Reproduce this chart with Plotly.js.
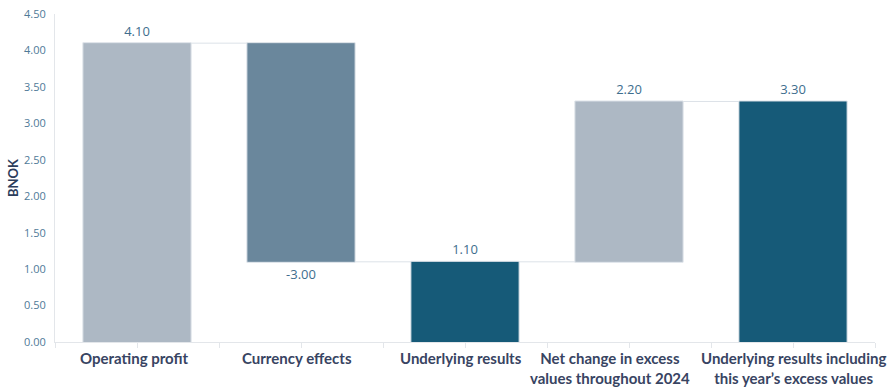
<!DOCTYPE html>
<html>
<head>
<meta charset="utf-8">
<script src="https://cdn.plot.ly/plotly-3.0.1.min.js"></script>
<style>html,body{margin:0;padding:0;background:#fff;}#chart{width:895px;height:388px;}</style>
</head>
<body>
<div id="chart"></div>
<script>
const categories = ["Operating profit", "Currency effects", "Underlying results", "Net change in excess<br>values throughout 2024", "Underlying results including<br>this year\u2019s excess values"];
const measures = ["relative", "relative", "total", "relative", "total"];
const values = [4.10, -3.00, 0, 2.20, 0];
const labels = ["4.10", "-3.00", "1.10", "2.20", "3.30"];
const yTicks = [0, 0.5, 1, 1.5, 2, 2.5, 3, 3.5, 4, 4.5];
const labelShift = [-3, -4, -4, -19, 0];

const lightCol = "#adb8c4", midCol = "#6a879c", darkCol = "#165a78";

const trace = {
  type: "waterfall",
  x: categories,
  y: values,
  measure: measures,
  text: labels,
  textposition: "outside",
  textfont: {family: "Open Sans, sans-serif", size: 13, color: "#3e6e8e"},
  cliponaxis: false,
  width: 0.66,
  increasing: {marker: {color: lightCol, line: {color: "#dfe4ea", width: 1}}},
  decreasing: {marker: {color: midCol, line: {color: "#dfe4ea", width: 1}}},
  totals: {marker: {color: darkCol, line: {color: "#dfe4ea", width: 1}}},
  connector: {line: {color: "#dde2e8", width: 1}},
  hoverinfo: "none"
};

const tickHelper = {
  type: "scatter", x: [0], y: [0], xaxis: "x2", yaxis: "y",
  mode: "markers", marker: {opacity: 0}, hoverinfo: "none", showlegend: false
};

const catAnnotations = categories.map((c, i) => ({
  x: c, y: 0, xref: "x", yref: "y",
  yanchor: "top", xanchor: "center", yshift: -5, xshift: labelShift[i],
  text: c, showarrow: false, align: "center",
  font: {family: "Lato, sans-serif", size: 15, color: "#384462", weight: "bold"}
}));

const layout = {
  width: 895, height: 388,
  margin: {l: 55, r: 20, t: 14, b: 46},
  paper_bgcolor: "#fff", plot_bgcolor: "#fff",
  showlegend: false,
  xaxis: {
    type: "category", range: [-0.5, 4.5], autorange: false,
    showgrid: false, zeroline: false,
    showline: true, linecolor: "#e3e6ea", linewidth: 1,
    ticks: "", showticklabels: false,
    automargin: false
  },
  xaxis2: {
    overlaying: "x", range: [-0.5, 4.5], autorange: false, dtick: 0.5, tick0: -0.5,
    showticklabels: false, showgrid: false, zeroline: false, showline: false,
    ticks: "outside", ticklen: 5, tickcolor: "#e3e6ea", tickwidth: 1,
    side: "bottom"
  },
  yaxis: {
    range: [0, 4.5],
    tickvals: yTicks,
    tickformat: ".2f",
    showgrid: false, zeroline: false,
    showline: true, linecolor: "#e3e6ea", linewidth: 1,
    ticks: "", ticklabelstandoff: 6,
    tickfont: {family: "Open Sans, sans-serif", size: 11, color: "#4f7a98"},
    title: {text: "BNOK", standoff: 2, font: {family: "Lato, sans-serif", size: 13, color: "#2c3d5c", weight: "bold"}},
    automargin: false
  },
  annotations: catAnnotations
};

Plotly.newPlot("chart", [trace, tickHelper], layout, {displayModeBar: false, staticPlot: true});
</script>
</body>
</html>
